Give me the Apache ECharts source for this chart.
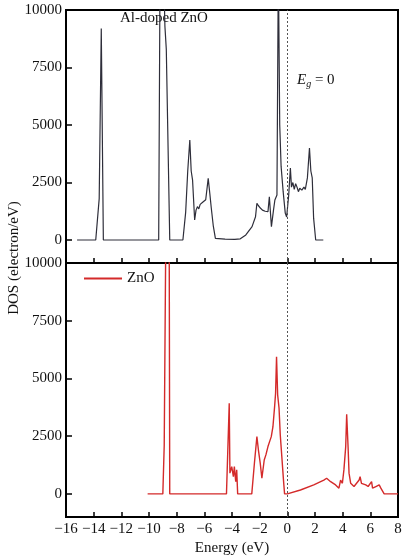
<!DOCTYPE html>
<html>
<head>
<meta charset="utf-8">
<script src="https://cdn.jsdelivr.net/npm/echarts@6/dist/echarts.min.js"></script>
<style>html,body{margin:0;padding:0;background:#fff;}#c{width:409px;height:558px;}</style>
</head>
<body>
<div id="c"></div>
<script>
// Al-doped ZnO total DOS (energy eV, DOS electron/eV)
const alEnergy = [-15.2,-13.85,-13.6,-13.45,-13.3,-9.3,-9.2,-8.95,-8.85,-8.75,-8.5,-7.55,-7.35,-7.2,-7.05,-6.95,-6.85,-6.7,-6.6,-6.5,-6.4,-6.3,-6.2,-6.1,-6.0,-5.9,-5.8,-5.72,-5.6,-5.5,-5.35,-5.2,-4.5,-3.8,-3.4,-3.0,-2.55,-2.3,-2.2,-2.1,-1.95,-1.8,-1.6,-1.4,-1.3,-1.15,-1.0,-0.9,-0.75,-0.65,-0.55,-0.45,-0.3,-0.15,-0.05,0.1,0.22,0.3,0.4,0.5,0.6,0.7,0.8,0.9,1.05,1.2,1.3,1.45,1.6,1.7,1.8,1.9,2.05,2.6];
const alDos    = [0,0,1800,9200,0,0,12000,12000,9300,8300,0,0,1200,3000,4350,3000,2600,870,1300,1450,1350,1550,1500,1650,1600,1750,1800,2680,2000,1400,600,70,40,30,50,220,580,1010,1600,1500,1390,1300,1250,1230,1880,580,1300,1740,1960,12000,5000,3200,2090,1170,1000,1960,3130,2300,2500,2200,2450,2300,2100,2250,2170,2300,2200,2700,4000,3000,2700,950,0,0];

// Pure ZnO total DOS
const znEnergy = [-10.1,-9.0,-8.9,-8.75,-8.55,-8.5,-4.4,-4.34,-4.2,-4.15,-4.02,-3.9,-3.83,-3.73,-3.66,-3.59,-2.57,-2.38,-2.2,-2.09,-1.96,-1.84,-1.67,-1.55,-1.4,-1.24,-1.16,-1.04,-0.92,-0.85,-0.78,-0.7,-0.6,-0.51,-0.27,-0.2,0.0,0.95,1.91,2.64,2.84,3.13,3.49,3.73,3.85,3.98,4.09,4.22,4.29,4.39,4.46,4.58,4.82,5.19,5.26,5.36,5.67,5.84,6.09,6.16,6.4,6.64,6.76,7.0,8.0];
const znDos    = [0,0,2100,14000,14000,0,0,0,3930,900,1180,750,1180,530,1040,0,0,1330,2480,1900,1330,680,1470,1690,2050,2340,2480,2910,3780,4360,5940,4290,3720,2550,530,0,0,170,390,600,680,530,390,250,600,460,1040,2050,3450,2050,900,460,320,600,750,460,390,320,530,250,320,390,250,0,0];

const xTicks = [-16,-14,-12,-10,-8,-6,-4,-2,0,2,4,6,8];
const yTicks = [0,2500,5000,7500,10000];
const seriesNames = ['Al-doped ZnO','ZnO'];

const FONT = "'Liberation Serif','Times New Roman',serif";
const fmtX = v => (v < 0 ? '\u2212' + (-v) : String(v));
const fmtY = v => String(v);

const grids = [
  {left:66, top:10, width:332, height:253, show:true, borderColor:'#000', borderWidth:2},
  {left:66, top:263, width:332, height:254, show:true, borderColor:'#000', borderWidth:2}
];

function xAxis(i, showLabel){
  return {
    type:'value', gridIndex:i, min:xTicks[0], max:xTicks[xTicks.length-1], interval:2,
    axisLine:{show:true, onZero:false, lineStyle:{color:'#000', width:2}},
    axisTick:{show:true, inside:true, length:5, lineStyle:{color:'#000', width:1.5}},
    splitLine:{show:false},
    axisLabel:{show:showLabel, formatter:fmtX, color:'#111', fontFamily:FONT, fontSize:15, margin:5},
    name: showLabel ? 'Energy (eV)' : '', nameLocation:'middle', nameGap:24,
    nameTextStyle:{color:'#111', fontFamily:FONT, fontSize:15}
  };
}
function yAxis(i){
  return {
    type:'value', gridIndex:i, min:-1000, max:10000,
    axisLine:{show:true, onZero:false, lineStyle:{color:'#000', width:2}},
    axisTick:{show:true, inside:true, length:6, customValues:yTicks, lineStyle:{color:'#000', width:1.5}},
    splitLine:{show:false},
    axisLabel:{show:true, customValues:yTicks, formatter:fmtY, color:'#111', fontFamily:FONT, fontSize:15, margin:4}
  };
}

const fermiLine = {
  silent:true, symbol:['none','none'], animation:false,
  label:{show:false},
  lineStyle:{type:[2,2], color:'#555', width:1},
  data:[{xAxis:0}]
};

const option = {
  animation:false,
  backgroundColor:'#fff',
  grid:grids,
  xAxis:[xAxis(0,false), xAxis(1,true)],
  yAxis:[yAxis(0), yAxis(1)],
  legend:{
    data:[seriesNames[1]], left:79, top:266, icon:'rect', itemWidth:38, itemHeight:2, itemGap:5,
    textStyle:{color:'#111', fontFamily:FONT, fontSize:15}
  },
  series:[
    {
      name:seriesNames[0], type:'line', xAxisIndex:0, yAxisIndex:0,
      data: alEnergy.map((e,i)=>[e, alDos[i]]),
      symbol:'none', clip:true,
      lineStyle:{color:'#2e2e3a', width:1.2},
      markLine: fermiLine
    },
    {
      name:seriesNames[1], type:'line', xAxisIndex:1, yAxisIndex:1,
      data: znEnergy.map((e,i)=>[e, znDos[i]]),
      symbol:'none', clip:true,
      itemStyle:{color:'#d42a2a'},
      lineStyle:{color:'#d42a2a', width:1.4},
      markLine: fermiLine
    }
  ],
  graphic:[
    {type:'text', left:120, top:11, style:{text:'Al-doped ZnO', fill:'#111', font:"15px " + FONT}},
    {type:'text', left:297, top:73, style:{
      text:'{e|E}{s|g}{t| = 0}',
      rich:{
        e:{fontFamily:FONT, fontStyle:'italic', fontSize:15, fill:'#111'},
        s:{fontFamily:FONT, fontStyle:'italic', fontSize:10, fill:'#111', padding:[8,0,0,0]},
        t:{fontFamily:FONT, fontSize:15, fill:'#111'}
      }
    }},
    {type:'text', x:14, y:258, rotation:Math.PI/2, style:{
      text:'DOS (electron/eV)', fill:'#111', font:"15px " + FONT, align:'center', verticalAlign:'middle'
    }}
  ]
};

const chart = echarts.init(document.getElementById('c'), null, {renderer:'canvas'});
chart.setOption(option);
</script>
</body>
</html>
